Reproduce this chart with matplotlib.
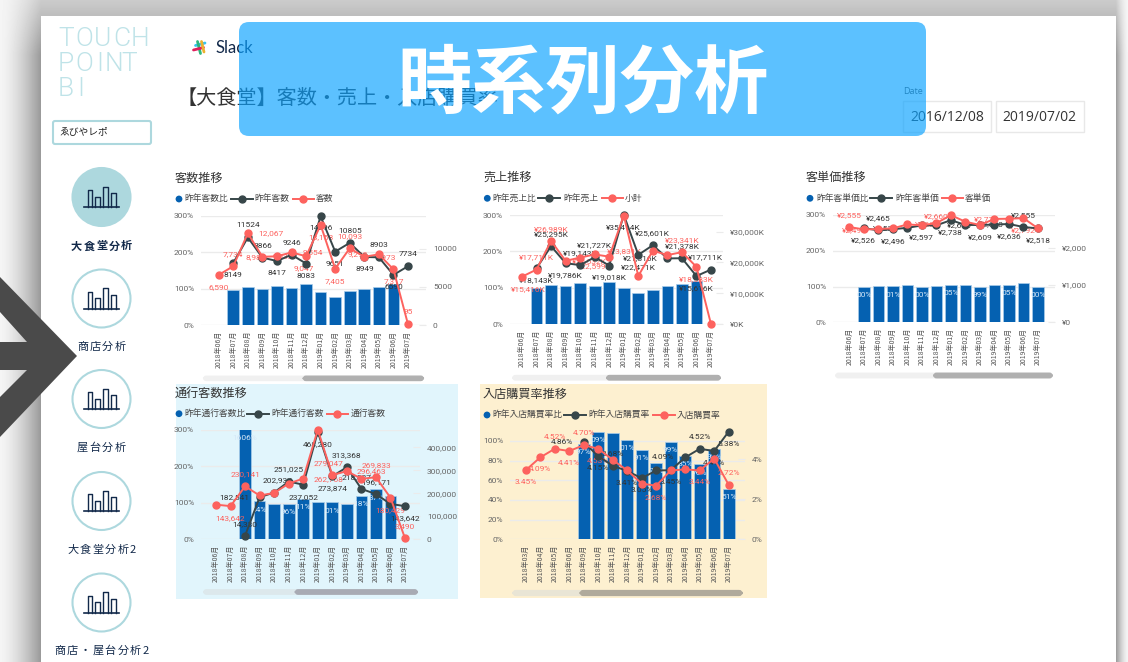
import numpy as np
import matplotlib
matplotlib.use("Agg")
import matplotlib.pyplot as plt
from matplotlib.patches import FancyBboxPatch, Circle, Polygon, Rectangle

plt.rcParams['font.family'] = ['Noto Sans CJK JP', 'DejaVu Sans']

W, H = 1128, 662
BLUE = "#0561B1"
DARK = "#374649"
RED = "#FD625E"
TEAL = "#ADD8DE"
NAVY = "#12294A"
TXT = "#444444"
nan = float("nan")

# label placement shorthands, pixels from the point
U = (0, -12)
D = (0, 12)
N = None

months_14 = ["2018年06月", "2018年07月", "2018年08月", "2018年09月", "2018年10月",
             "2018年11月", "2018年12月", "2019年01月", "2019年02月", "2019年03月",
             "2019年04月", "2019年05月", "2019年06月", "2019年07月"]
months_15 = ["2018年03月", "2018年04月", "2018年05月", "2018年06月", "2018年09月",
             "2018年10月", "2018年11月", "2018年12月", "2019年01月", "2019年02月",
             "2019年03月", "2019年04月", "2019年05月", "2019年06月", "2019年07月"]

# 客数
visit_ratio = [nan, 95, 105, 100, 106, 103, 112, 92, 78, 93, 100, 105, 112, 1]
visit_prior = [nan, 8149, 11524, 8866, 8417, 9246, 8083, 14296, 9651, 10805, 8949, 8903, 6590, 7734]
visit_now = [6590, 7734, 12067, 8980, 9033, 9554, 9047, 13158, 7405, 10093, 8973, 9298, 7317, 95]
visit_prior_pos = [N, D, U, U, D, U, D, D, D, U, D, U, D, U]
visit_now_pos = [D, U, (23, 0), (-7, 0), (6, 0), (21, 0), (-2, 12), D, D, U, (21, 0), (-21, 0), D, U]

# 売上 (K)
sales_ratio = [nan, 100, 107, 105, 113, 105, 116, 100, 85, 93, 105, 110, 120, 1]
sales_prior = [nan, 18143, 25295, 19786, 19143, 21727, 19018, 35414, 22471, 25601, 21316, 21378, 15616, 17711]
sales_now = [15416, 17711, 26989, 20532, 21600, 22599, 21900, 35200, 15640, 23831, 22400, 23341, 18583, 50]
sales_prior_pos = [N, D, U, D, U, U, D, D, D, U, (-27, 0), U, D, (-6, -12)]
sales_now_pos = [(6, 12), U, U, (24, 0), N, D, N, N, N, (-28, 0), N, U, D, N]

# 客単価
price_ratio = [nan, 100, 101, 101, 105, 100, 102, 105, 103, 99, 105, 105, 110, 100]
price_prior = [nan, 2526, 2465, 2496, 2533, 2597, 2600, 2738, 2610, 2609, 2620, 2636, 2555, 2518]
price_now = [2555, 2490, 2500, 2518, 2625, 2600, 2660, 2873, 2696, 2609, 2772, 2777, 2792, 2518]
price_prior_pos = [N, D, U, D, (-22, 0), D, N, D, (-6, 0), D, (-3, 0), D, U, D]
price_now_pos = [U, (-9, 1), N, N, N, (6, -1), (0, -7), N, N, N, (-8, 0), N, D, N]
price_bar_text = ["", "00%", "", "01%", "", "00%", "", "05%", "", "99%", "", "05%", "", "00%"]

# 通行客数
walk_ratio = [nan, nan, 1606, 104, 97, 96, 111, 101, 101, 96, 118, 137, 119, 1]
walk_prior = [nan, nan, 14330, 182541, 202937, 251025, 237052, 468280, 273874, 313368, 218837, 196171, 153000, 143642]
walk_now = [150000, 143642, 230141, 190000, 201000, 242000, 264000, 477000, 279047, 296463, 262768, 269833, 180429, 3490]
walk_prior_pos = [N, N, U, (-25, 0), (3, -12), U, D, D, D, U, (-5, -12), U, N, D]
walk_now_pos = [N, D, U, N, N, N, N, N, (-4, -12), (25, 0), (-33, 0), U, D, U]
walk_bar_text = ["", "", "1606%", "04%", "", "96%", "11%", "", "01%", "", "18%", "37%", "", ""]

# 入店購買率
rate_ratio = [nan, nan, nan, nan, 97, 109, 108, 101, 91, 78, 99, 85, 76, 92, 51]
rate_prior = [nan, nan, nan, nan, 4.86, 4.15, 3.68, 3.41, 3.05, 3.44, 3.45, 4.09, 4.52, 4.41, 5.38]
rate_now = [3.45, 4.09, 4.52, 4.41, 4.70, 4.53, 3.97, 3.44, 2.78, 2.68, 3.44, 3.49, 3.44, 4.03, 2.72]
rate_prior_pos = [N, N, N, N, (-22, 0), D, U, D, D, N, D, (-22, 0), U, D, D]
rate_now_pos = [D, D, U, D, U, D, N, N, N, D, N, N, D, N, U]
rate_bar_text = ["", "", "", "", "97%", "09%", "", "01%", "91%", "78%", "99%", "85%", "76%", "92%", "51%"]

nav_labels = ["大食堂分析", "商店分析", "屋台分析", "大食堂分析2", "商店・屋台分析2"]
nav_circle_y = [197, 298.5, 399, 501, 602.5]
nav_label_y = [246, 347, 448, 550, 651]

fig = plt.figure(figsize=(W / 100, H / 100), dpi=100)


def pixel_axes(z):
    a = fig.add_axes([0, 0, 1, 1], zorder=z)
    a.set_xlim(0, W)
    a.set_ylim(H, 0)
    a.axis("off")
    a.patch.set_alpha(0)
    return a


bg = pixel_axes(0)
top = pixel_axes(10)


def scrollbar(x0, x1, thumb, y0, y1, track_col, thumb_col):
    r = (y1 - y0) / 2
    for a, b, c in [(x0, x1, track_col), (thumb, x1, thumb_col)]:
        bg.add_patch(FancyBboxPatch((a + r, y0 + r * 0.2), b - a - 2 * r, (y1 - y0) - r * 0.4,
                                    boxstyle="round,pad=0,rounding_size=%f" % r, fc=c, ec=c, lw=1))


def legend(y, xs, names):
    cx, t1, l1a, l1b, t2, l2a, l2b, t3 = xs
    bg.add_patch(Circle((cx, y), 3.4, fc=BLUE, ec="none"))
    bg.text(t1, y, names[0], fontsize=6.3, color=TXT, va="center")
    bg.plot([l1a, l1b], [y, y], color=DARK, lw=1.4)
    bg.plot([(l1a + l1b) / 2], [y], "o", color=DARK, ms=5)
    bg.text(t2, y, names[1], fontsize=6.3, color=TXT, va="center")
    bg.plot([l2a, l2b], [y, y], color=RED, lw=1.4)
    bg.plot([(l2a + l2b) / 2], [y], "o", color=RED, ms=5)
    bg.text(t3, y, names[2], fontsize=6.3, color=TXT, va="center")


def spaced_label(x, y, s, **kw):
    # letter spaced nav text, digits take less room
    steps = [7.5 if c.isdigit() else 12.6 for c in s]
    pos = x - sum(steps) / 2
    for c, st in zip(s, steps):
        bg.text(pos + st / 2, y, c, ha="center", va="center", **kw)
        pos += st


def point_labels(ax, vals, pos, fmt, col):
    for i, v in enumerate(vals):
        if pos[i] is None or np.isnan(v):
            continue
        dx, dy = pos[i]
        ax.annotate(fmt(v), (i, min(v, ax.get_ylim()[1])), xytext=(dx * 0.72, -dy * 0.72),
                    textcoords="offset points", ha="center", va="center",
                    fontsize=6, color=col, family="Roboto", zorder=2, annotation_clip=False)


def chart(box, centers, ymax_l, yticks_l, ylabels_l, ymax_r, yticks_r, ylabels_r, months,
          ratio, prior, now, prior_pos, now_pos, fmt_prior, fmt_now, bar_text=None):
    x0, x1, ytop, y0 = box
    n = len(months)
    step = (centers[1] - centers[0]) / (n - 1)
    ax = fig.add_axes([x0 / W, 1 - y0 / H, (x1 - x0) / W, (y0 - ytop) / H], zorder=2)
    ax.patch.set_alpha(0)
    ax.set_xlim((x0 - centers[0]) / step, (x1 - centers[0]) / step)
    ax.set_ylim(0, ymax_l)
    ax.bar(range(n), ratio, width=0.8, color=BLUE, edgecolor="#A9CDEA", linewidth=0.5, zorder=2)
    ax.set_yticks(yticks_l, ylabels_l, fontsize=6, color="#666666", family="Roboto")
    ax.set_xticks(range(n), months, rotation=90, fontsize=5, color="#555555")
    ax.tick_params(axis="x", length=0, pad=4)
    ax.tick_params(axis="y", length=0, pad=5)
    ax.grid(axis="y", color="#EBEBEB", lw=1)
    ax.set_axisbelow(True)
    for s in ax.spines.values():
        s.set_visible(False)
    if bar_text:
        for i, t in enumerate(bar_text):
            if t:
                ax.annotate(t, (i, min(ratio[i], ymax_l)), xytext=(0, -6), textcoords="offset points",
                            ha="center", va="center", fontsize=6, color="#D6E8F8",
                            family="Roboto", zorder=3)

    ax2 = ax.twinx()
    ax2.set_ylim(0, ymax_r)
    ax2.patch.set_alpha(0)
    point_labels(ax2, prior, prior_pos, fmt_prior, "#333333")
    point_labels(ax2, now, now_pos, fmt_now, RED)
    ax2.plot(range(n), prior, "-o", color=DARK, lw=1.4, ms=5, clip_on=False, zorder=3)
    ax2.plot(range(n), now, "-o", color=RED, lw=1.4, ms=5, clip_on=False, zorder=4)
    ax2.set_yticks(yticks_r, ylabels_r, fontsize=6, color="#666666", family="Roboto")
    ax2.tick_params(axis="y", direction="in", length=5, width=0.8, color="#EBEBEB", pad=5)
    for s in ax2.spines.values():
        s.set_visible(False)
    return ax, ax2


# page background, blurred shadow round the sheet
xx, yy = np.meshgrid(np.arange(W) + 0.5, np.arange(H) + 0.5)
fx = np.where(xx < 41, (xx / 41) ** 1.5, np.where(xx > 1116, ((W - xx) / 12) ** 1.5, 1.0))
gy = np.clip(0.45 + 0.01 * yy, 0, 1)
shade = 0.96 - 0.36 * fx * gy
bg.imshow(shade, cmap="gray", vmin=0, vmax=1, extent=(0, W, H, 0), aspect="auto", zorder=0)
bg.set_xlim(0, W)
bg.set_ylim(H, 0)
bg.add_patch(Rectangle((41, 16), 1075, 646, fc="white", ec="none", zorder=0.5))

# coloured panels
bg.add_patch(Rectangle((175.7, 383.5), 282, 215, fc="#E1F5FC", ec="none"))
bg.add_patch(Rectangle((479.7, 384.3), 287, 214, fc="#FDF0D0", ec="none"))

# logo text
for word, y, xs in [("TOUCH", 39, [66, 84.5, 103, 121.5, 139.5]),
                    ("POINT", 64, [66, 84, 99.5, 114, 129]),
                    ("BI", 89, [66, 80.5])]:
    for ch, x in zip(word, xs):
        bg.text(x, y, ch, fontsize=19, family="Roboto", weight=300, color="#BFE3E8",
                ha="center", va="center")

# slack mark
for col, xs, ys in [("#36C5F0", [195.5, 205], [45.5, 43]), ("#2EB67D", [197.5, 200.5], [41.5, 53.5]),
                    ("#E01E5A", [193.5, 203.5], [50, 47.5]), ("#ECB22E", [201.5, 204], [41.5, 52])]:
    bg.plot(xs, ys, color=col, lw=2, solid_capstyle="round")
bg.text(216, 48, "Slack", fontsize=12, family="Lato", color=NAVY, va="center")

bg.text(177, 98, "【大食堂】客数・売上・入店購買率", fontsize=14.5, color="#333333", va="center")

# slicer box
bg.add_patch(FancyBboxPatch((53, 121), 98, 23, boxstyle="round,pad=0,rounding_size=2",
                            fc="white", ec=TEAL, lw=1.5))
bg.text(59, 132.5, "ゑびやレポ", fontsize=7, color="#222222", va="center")

# nav buttons
for i, (lab, cy, ly) in enumerate(zip(nav_labels, nav_circle_y, nav_label_y)):
    bg.add_patch(Circle((101.5, cy), 29, fc=TEAL if i == 0 else "white", ec=TEAL, lw=1.5))
    bg.plot([83.5, 119], [cy + 10, cy + 10], color=NAVY, lw=1.2)
    for a, b, h in [(87.7, 92.3, 17), (95, 99.7, 10.5), (102.7, 107.7, 20.5), (110.7, 115.7, 14)]:
        bg.plot([a, a, b, b], [cy + 10, cy + 10 - h, cy + 10 - h, cy + 10], color=NAVY, lw=1)
    spaced_label(101.5, ly, lab, fontsize=8, color=NAVY, weight="bold" if i == 0 else "normal")

# date slicer
bg.text(903, 91, "Date", fontsize=6.5, family="Open Sans", color="#555555", va="center")
for x0, x1, t in [(903, 991, "2016/12/08"), (995.5, 1084, "2019/07/02")]:
    bg.add_patch(Rectangle((x0, 101), x1 - x0, 31, fc="white", ec="#E8E8E8", lw=1))
    bg.text((x0 + x1) / 2, 117.5, t, fontsize=10, family="Open Sans", color="#333333",
            ha="center", va="center")

# titles
for x, y, t in [(175, 178, "客数推移"), (483, 177, "売上推移"), (806, 177, "客単価推移"),
                (175, 393, "通行客数推移"), (483, 394, "入店購買率推移")]:
    bg.text(x, y, t, fontsize=8.7, color="#333333", va="center")

legend(199, [179, 184, 231, 253, 254.5, 292.7, 314, 316], ["昨年客数比", "昨年客数", "客数"])
legend(198.3, [487.3, 492.7, 538, 560, 563, 601.7, 623, 625], ["昨年売上比", "昨年売上", "小計"])
legend(198.3, [810, 816, 870, 892, 895, 941.7, 963, 965], ["昨年客単価比", "昨年客単価", "客単価"])
legend(413.7, [179, 184, 247, 269, 271.7, 326.7, 348, 350.7], ["昨年通行客数比", "昨年通行客数", "通行客数"])
legend(415, [487, 492.3, 564, 586, 588.7, 653, 675, 676.7], ["昨年入店購買率比", "昨年入店購買率", "入店購買率"])

scrollbar(201, 426, 300.7, 375.7, 381, "#F0F0F0", "#B0B0B0")
scrollbar(510, 723, 604, 375, 380.5, "#F0F0F0", "#B0B0B0")
scrollbar(833, 1055, 931, 372.7, 378.3, "#F0F0F0", "#B0B0B0")
scrollbar(201, 420, 292.7, 589.3, 594.7, "#DCE8EC", "#A8ABB4")
scrollbar(510, 745, 577.3, 590, 596, "#E9E5D5", "#B0AA9C")

pct = [0, 100, 200, 300]
pct_lab = ["0%", "100%", "200%", "300%"]

chart((201, 426, 216, 325), (218.7, 408), 300, pct, pct_lab,
      14340, [0, 5000, 10000], ["0", "5000", "10000"], months_14,
      visit_ratio, visit_prior, visit_now, visit_prior_pos, visit_now_pos,
      lambda v: f"{v:.0f}", lambda v: f"{v:,.0f}")
chart((510, 723, 215, 324.3), (522, 711), 300, pct, pct_lab,
      35370, [0, 10000, 20000, 30000], ["¥0K", "¥10,000K", "¥20,000K", "¥30,000K"], months_14,
      sales_ratio, sales_prior, sales_now, sales_prior_pos, sales_now_pos,
      lambda v: f"¥{v:,.0f}K", lambda v: f"¥{v:,.0f}K")
chart((833, 1055, 215, 322.3), (849.3, 1038), 300, pct, pct_lab,
      2877, [0, 1000, 2000], ["¥0", "¥1,000", "¥2,000"], months_14,
      price_ratio, price_prior, price_now, price_prior_pos, price_now_pos,
      lambda v: f"¥{v:,.0f}", lambda v: f"¥{v:,.0f}", price_bar_text)
chart((201, 420, 430, 539), (216, 405), 300, pct, pct_lab,
      476000, [0, 100000, 200000, 300000, 400000], ["0", "100,000", "200,000", "300,000", "400,000"], months_14,
      walk_ratio, walk_prior, walk_now, walk_prior_pos, walk_now_pos,
      lambda v: f"{v:,.0f}", lambda v: f"{v:,.0f}", walk_bar_text)
chart((510, 745, 431, 539.3), (525.7, 728.7), 110, [0, 20, 40, 60, 80, 100],
      ["0%", "20%", "40%", "60%", "80%", "100%"],
      5.41, [0, 2, 4], ["0%", "2%", "4%"], months_15,
      rate_ratio, rate_prior, rate_now, rate_prior_pos, rate_now_pos,
      lambda v: f"{v:.2f}%", lambda v: f"{v:.2f}%", rate_bar_text)

# banner and arrow sit over everything
top.add_patch(FancyBboxPatch((248, 31), 669, 96, boxstyle="round,pad=9,rounding_size=10",
                             fc="#08A1FF", ec="none", alpha=0.66))
top.text(583, 85, "時系列分析", fontsize=53.5, color="white", weight="bold", ha="center", va="center")
top.add_patch(Polygon([(77, 356), (0, 277), (0, 312), (27, 342), (0, 342), (0, 370), (27, 370),
                       (0, 397), (0, 437)], closed=True, fc="#4A4A4A", ec="none"))

fig.savefig("out.png", dpi=100)
